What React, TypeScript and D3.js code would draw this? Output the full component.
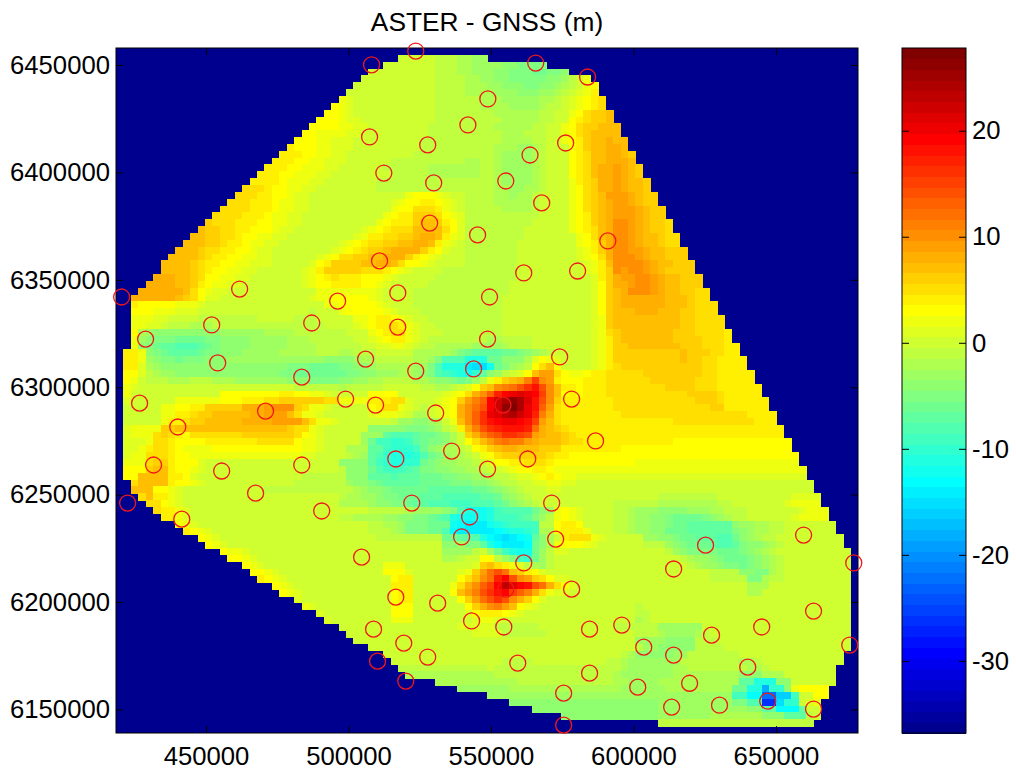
import React, { useEffect, useRef } from 'react';
import * as d3 from 'd3';

const xTicks = [450000, 500000, 550000, 600000, 650000];
const yTicks = [6150000, 6200000, 6250000, 6300000, 6350000, 6400000, 6450000];
const barTicks = [-30, -20, -10, 0, 10, 20];

// GNSS station positions
const eastings = [508100, 523600, 565700, 583900, 548900, 541900, 507400, 527800, 576200, 563700, 512400, 529900, 555200, 567800, 528500, 545300, 591000, 510900, 561500, 580400, 517300, 549500, 420400, 461800, 496200, 428800, 452000, 487100, 517300, 454100, 506000, 523600, 483600, 426700, 499000, 509500, 470900, 530600, 440100, 516600, 431600, 455500, 483600, 467400, 422500, 522200, 490600, 441500, 548800, 543900, 574100, 578300, 554200, 586700, 536200, 562900, 548800, 571300, 542500, 539700, 572700, 625300, 504600, 561500, 614100, 516600, 531300, 555200, 578300, 543200, 508800, 554500, 584600, 595900, 519400, 527800, 603600, 614100, 510200, 559400, 584600, 520100, 601500, 575500, 613400, 575500, 659700, 677300, 663200, 645000, 627400, 675900, 640100, 619700, 647100, 630200, 663200];
const northings = [6450100, 6456500, 6450900, 6444400, 6434200, 6422100, 6416500, 6412800, 6413700, 6408100, 6399700, 6395100, 6396000, 6385800, 6376400, 6370900, 6368100, 6358800, 6353200, 6354100, 6343900, 6342000, 6342000, 6345700, 6340100, 6322400, 6329000, 6329900, 6328000, 6311300, 6313100, 6307500, 6304700, 6292600, 6294500, 6291700, 6288900, 6288000, 6281500, 6266600, 6263800, 6261000, 6263800, 6250700, 6246100, 6246100, 6242400, 6238600, 6322400, 6308500, 6314100, 6294500, 6291700, 6275000, 6270300, 6266600, 6261900, 6246100, 6239600, 6230300, 6229300, 6226500, 6220900, 6218200, 6215400, 6202300, 6199500, 6206000, 6206000, 6191200, 6187400, 6188400, 6187400, 6189300, 6180900, 6174400, 6179000, 6175300, 6172500, 6171600, 6166900, 6163200, 6160400, 6157600, 6151100, 6142700, 6231200, 6218200, 6195800, 6188400, 6184600, 6180000, 6169700, 6162200, 6153900, 6152000, 6150200];

// first and one-past-last grid column with data, per grid row from the top
const rowStart = [100, 38, 36, 34, 33, 32, 31, 30, 29, 28, 27, 26, 25, 24, 23, 22, 21, 20, 19, 18, 17, 16, 15, 14, 13, 12, 11, 10, 9, 8, 7, 6, 6, 5, 4, 3, 2, 2, 2, 2, 2, 2, 2, 2, 1, 1, 1, 1, 1, 1, 1, 1, 1, 1, 1, 1, 1, 1, 1, 1, 1, 1, 1, 2, 2, 3, 4, 5, 6, 8, 9, 11, 12, 14, 15, 17, 18, 19, 21, 22, 24, 25, 27, 28, 30, 31, 32, 34, 36, 37, 38, 39, 43, 46, 50, 53, 56, 60, 73, 100];
const rowEnd = [100, 50, 58, 61, 64, 65, 65, 66, 66, 67, 67, 68, 68, 69, 69, 70, 70, 71, 71, 72, 72, 73, 73, 74, 74, 75, 75, 76, 76, 77, 77, 78, 78, 79, 79, 80, 80, 81, 81, 82, 82, 83, 83, 84, 84, 85, 85, 86, 86, 87, 87, 88, 88, 89, 89, 90, 90, 91, 91, 92, 92, 93, 93, 94, 94, 95, 95, 96, 96, 97, 97, 98, 98, 99, 99, 99, 99, 99, 99, 99, 99, 99, 99, 99, 99, 99, 99, 99, 98, 98, 97, 97, 97, 96, 96, 95, 95, 95, 94, 100];

// ASTER - GNSS difference in metres, one string per grid row.
// Ten columns per group, "_" is a group with no data.
// 0-9 = 0..9 m, a-r = 10..27 m, A-Z = -1..-26 m
const heatRows = [
  '',
  '_ _ _ 0000000000 000AAABBCC',
  '_ _ _ 0000000000 000AAABBCC CCDDEEEEEE',
  '_ _ _ 0000000000 000AAABBCC CDDEEEFFEE DCAAAAAAAA',
  '_ _ _ 0000000000 000AAAABBC CDDEEEEEDD CA02344444',
  '_ _ _ 1000000000 000AAAABBB CCDDDEEDDC BA02345555',
  '_ _ _ 1000000000 000AAAABBB BCCCDDDCCB A012455566',
  '_ _ _ 2100000000 000AAAAAAB BBCCCCCBBA 0123455666',
  '_ _ 3333333333 2100000000 000AAAAAAB BBBCCCCBAA 0123456666',
  '_ _ 3333333333 2100000000 000AAAAAAA ABBBBBBAA0 0235667766',
  '_ _ 3333333333 2110000000 000AAAAAAA AABBBBBAA0 0345667766',
  '_ _ 3333333333 2211000000 00AAAAAAAA ABBBBBAA00 2356677766',
  '_ _ 4443333222 2110000000 00AAAAAAAA AABBBAAA00 2356777766',
  '_ _ 4443333221 1100000000 0AAAAAAAAA AABBBBAA00 2346778776',
  '_ _ 4444333221 1100000000 0AAAAAAAAA ABBBCCBA00 0346778876',
  '_ _ 4444433221 1000000000 AAAAAAAAAA ABCCCCBA00 0345778876',
  '_ _ 4444332211 1000000AAA AAAAAAABBA ABCCCCBA00 0345778887',
  '_ _ 4443322211 000000AAAA AABBBBBBBA ABCCCCBA00 0345788987 6666666666',
  '_ 4444444444 4433222110 0000000AAA AABBBBBBBA ABCCCCBA00 0345788987 6666666666',
  '_ 4444444444 4432221100 00000AAAAA AAAAAAAAAA ABCCCCBA00 0245688987 7666666666',
  '_ 5555555555 4332211000 00000AAAAA AAAAAAAAAA ABBCCBBA00 0235688987 7666666666',
  '_ 5555555554 4332110000 0000000002 3332100AAA ABBCBBA000 0235679998 7666666666',
  '_ 5555555544 4322110000 0000000123 3443210AAA ABBBBBA000 0235678998 7666666666',
  '_ 6665555544 4322110000 0000000233 5554210AAA AABBBBA000 0235678999 8766666666',
  '_ 6665555444 3221100000 0000002344 6665321AAA AAAAAAA000 0234678999 8766666666',
  '_ 7665554443 3221100000 0000023444 6776431AAA AAAAAA0000 0234678aa9 8766555555',
  '_ 7766554433 3211000000 0001234555 7777531AAA AAAAA00000 0234578aa9 8766555555',
  '_ 7766554332 2110000000 0012445566 7887421AAA AAAAA00000 0023578aa9 8776555555',
  '7777777777 7766544322 1100000000 1234556677 8874210AAA AAAA000000 0023468aa9 8776555555',
  '7777777777 7655443321 1000000001 2345667888 8643100AAA AAAA000000 0012468aa9 9877666666',
  '7777777777 7654433221 1000000123 5566778886 4321000AAA AAAA000000 0012358aaa 9877666666',
  '7777777777 6544332211 1000001346 6667788753 3210000AAA AAAA000000 0001247aaa a987766666',
  '7777777777 6543322110 0000012466 6665554321 0000AAAAAA AAAA000000 0001246a9a a987666666',
  '7777788877 6533221100 0000012345 4443332100 000AAAAAAA AAAA000000 0000146899 aa98776666',
  '8888888877 6432211000 0000012334 4443321000 00AAAAAAAA AAA0000000 0000136889 aa98776666',
  '8888888887 5321100000 0000000222 2222210000 AAAAAAAAAA AAA0000000 000013678a aa98776655',
  '8888888876 5311000000 0000001223 3333210000 AAAAAAAAAA AA00000000 0000136788 8888777655',
  '6443333322 2100000000 0000000022 3333321000 AAAAAAAAAA AA00000000 0000136788 8888777655 5555555555',
  '6433322211 1000000000 000000A000 2333332100 0AAAAAAAAA AA00000000 0000136777 8887776655 5555555555',
  '5322211000 0AAAAAAAA0 0000AAA000 0022344321 00AAAAAAAA AA00000000 0000126777 7777776655 5555555555',
  '4322110AAA BBBAAAAAAA AAAAAAAA00 0012344542 100AAAAAAA AA00000000 0000126777 7777776655 5555555555',
  '433BCDDDDD DDDDCCCCCC BBBBAAAAAA A000234552 1000AAAAAA AA00000000 0000125677 7777766655 5545555555',
  '332CDEEEFF FFEEDDDDCC CCCBBBAAAA AA00123442 10AAAAAAAA BBAAAA0000 0000124677 7777766665 5545555555',
  '332DEFGGHH HGFEDDDDCC CCCBBBBAAA AAA0011221 0AABBBBBCC CCBAAA0000 0000124667 7777776665 5544555555',
  '4442DEFGGG GFEEDDDCCC CCBBBBBAAA BBAAA00000 BBBBBCEFGG GGFFEDCBA0 0000124666 6666667666 5544555555',
  '4442CDEEFE EEDDDCCCCC CCCCCCCCDD DDCBBAAAAA BBCEHHHKKK FFDDDB1321 0000124666 6666667665 5444444444',
  '4441BCDDDD DDDDDDDDDD DDDEEEFFFF EEDDCBBBBB CCEHKKKNOO LFECBA3573 0000124566 6666666665 5444444444',
  '3331ABCCDD DDDDDDDDDD DDEEFFFFFF FEEDDCCCBB CDEHIJKLJG DCA0137995 3223445555 5666666665 5444444444',
  '3320AAABBB AAABBBCCCC CCCDDDEEEE DDCCBBAAAA BBCDDEFECA 24678bfa94 3334445555 5566666655 5444444444',
  '2210000000 0000000000 0000AAAAAA BAAAAA0000 0AABBA0136 7abcegiea7 4434445555 5555666655 5444444444',
  '2200000000 0000333333 3344332210 0000333300 000012358a dhjklkjfa7 3434445555 5555555666 6544444444',
  '1100000022 2222333444 5566666655 2222444551 00012369bd jmoqoliea6 4444444555 5555555566 6544444444',
  '1000002233 4466666888 9aaa652210 0000345521 0A01238ace jmqrokid95 4444444555 5555555555 6644444444',
  '1000002244 5667777788 9997522100 0000122210 BB01238adg klnomkhb85 4444444455 5555555555 5555544444',
  '1000002445 6677777888 8999975221 0000000ACC DDCB027adg ijkkjif975 4444444444 4444455555 5555554444',
  '1122226677 7777777777 7776552100 0000DDDDDE EEDCA048be ghiiihc876 5444444444 4444444444 4444444444',
  '1122256543 5555555666 6666532100 000CCCGHHH GFFEDB068b deggfe9877 6544444444 4444444444 4444444444',
  '1111255433 3344444445 5555322100 000CFIIJJI GFEEDB0357 9bcbb98777 6554444444 4444433333 3333333333 3333333333',
  '1112455432 2223333333 3333322100 0BBBGGIJJJ IFDCBBA034 6788777666 4444444433 3333333333 3333333333 3333333333',
  '1122555433 2222222222 2222211000 0ABCGHJKKK JHFECBBA02 3566666654 4333333333 3333333333 3333333333 3333333333',
  '2222566433 3100000000 0000000000 DDDDGIJKKJ JFEDCCBBA0 1334455543 3333333333 2222222222 2222222222 2222222222',
  '3333677433 2100000000 0000000000 ADDDFHIIIH GEEDDCCBBA 0012334432 2222222222 2222222222 2222222222 2222222222',
  '3337777443 1000000000 00000AAAAA ADDDGGGHGG GFFFEEDDCC BAA0112343 2211111111 1111111111 1111111111 1111111111',
  '4457777433 2100000000 0000AAAAAA ACDDEFGGGG GFFFFEEEDD CBAA001122 1100000000 0000000000 0000000000 0000000000',
  '5577733210 0000000000 AAAAAAAAAA AABCDDEFFF FFGGGGGGFF EDCBA00011 0000000000 0000000000 0000000000 0000000000',
  '5555744210 0000000000 0000000000 ABBCCDEEFF FGGGHHHHHG GFDCBA0000 0000000000 000AAAAAAA A000000000 0111111111',
  '5555553210 0000000000 0000000000 BBBBCDDEEF GGHHHIIIHH HGFDCBA000 0000000AAA AAABBBBBBB BAA0000000 1222222222',
  '5555554421 0000000000 0000000000 0000AAAAAB CCCCDEHKLL KIHHHHFDC2 3210000AAB CCCDDDDCCC BBAAA00000 0012222222',
  '4444444421 0000000000 0000000000 AABBBBCCDD EEFGHKLLLL KIIIHGECA2 3210000AAB CCDDEFFFFE DCBAA00000 0122222222',
  '3333333332 1000000000 0000000000 0000AABBCE EEFFFLMNNN LKJIIIIAA3 4430000AAB CCDDEFFGGG GGGDCCBBAA 0000000000',
  '3333333334 3210000000 0000000000 0000AAABCE EEFFHMNNNN NMLKKJIBB3 4442000AAB CCDDFFFGGG GGGEDCBBAA 0000000000',
  '3333333333 3321000000 0000000000 00000AAAAA AAAAFFGGHK MNONMLGDB0 4555210000 0CCDDEFFGG GHHFDCBAA0 0000000000',
  '3333333333 3332100000 0000000000 0000000000 0000DDCEEG KMNNNMFDB2 3332100000 0AAACDEFFF GHHGEDDCBA 0000000000',
  '_ 3333322100 0000000000 0000000000 0000CCCCA0 CFIKLLFCA1 1000000000 0000ACDEEE EFFFEDCBA0 0000000000',
  '_ 3333333210 0000000000 0000000000 0000BBA003 3ACEIJFCA0 0000000000 000000ABCC DEFFFEDCBA 0000000000',
  '_ 3333333321 0000000000 0000002220 0000000016 75421ABCA0 0000000000 0000000ABC CDEEFEDCBA 0000000000',
  '_ 3333333333 2100000000 0000003331 0000001269 cec7643100 0000000000 0000000000 AAAADDEEBA 0000000000',
  '_ 4444444444 3210000000 0000000344 000000357a chjea96531 1000000000 0000000000 AAAAAEEBAA 0000000000',
  '_ _ 3321000000 0000000444 00000258ad fjnljiec85 3100000000 0000000000 00000BBB00 0000000000',
  '_ _ 3332100000 0000000344 00000379be gijfdb8521 1000000000 0000000000 00000BB000 0000000000',
  '_ _ 2222100000 0000000344 000000369c egea863100 0000000000 0000000000 0000000000 0000000000',
  '_ _ 2222221000 0000000333 0000000368 ab97321000 0000000000 A000000000 0000000000 0000000000',
  '_ _ 2222222100 0000000333 0000000134 4432100000 0000000000 AA00000000 0000000000 0000000000',
  '_ _ 2222222210 0000000222 0000000012 2100000000 0000000000 BA00000000 0000000000 0000000000',
  '_ _ _ 0000000000 0000001111 1AAAAAA000 0000000AAA AAACCCCCC0 0000000000 0000000000',
  '_ _ _ 0000000000 0000000011 11AAAAAA00 0000000000 AAABCCCCBA 0000000000 0000000000',
  '_ _ _ 0000000000 0000000000 0000000000 0000000000 CCCCDDDDAA A000000000 0000000000',
  '_ _ _ 0000000000 0000000000 0000000000 0000000000 ACCDDDDDAA AA00000000 0000000000',
  '_ _ _ 0000000000 0000000000 0000000000 00000000AB DDDDDCCAAA AAAA000000 0000000000',
  '_ _ _ 0000000000 0000000000 00AAAA0000 000000AABC CCCCCCAAAA AAAABBA000 0000000000',
  '_ _ _ AAAAAAAAAA AAAAAAAAAA 0AAAAAAAAA AAAAAAAABC CCCCCBBAAA AAAAABBA00 0000000000',
  '_ _ _ BBBBBBBBBB BBBBBBBBBB BAAAAAAAAA AAAAAAABCC CCCCCBBBBB BBBBDDDBBB 0000000000',
  '_ _ _ _ BBBBBBBBBB BBBBAAAAAA AAAAAAABBC CCCBBBBBBB BBBBGGKKKD D000000000',
  '_ _ _ _ CCCCCCCCCC CCCBBBBBBB BBBBBBBBCC CCCCBBBBBB BBBFFKKRJJ D233333333',
  '_ _ _ _ _ CCCCCCCCCC CCCCCCCCCC CCCCCCCCCC CCCIIMMVVP PI00333333',
  '_ _ _ _ _ DDDDDDDDDD DDDDDDDDDD DDDCCCCCCC CCCEEHHZZO JJ01222222',
  '_ _ _ _ _ DDDDDDDDDD DDDDDDDDDD DDDCCCCCCC CCCCCDDGGM MMG0000000',
  '_ _ _ _ _ _ DDDDDDDDDD DDDCCCCCCC BBBBBBBDDD GGGA000000',
  '_ _ _ _ _ _ _ AAAAAAAAAA AAAAAAAAAA AAAA000000',
  '',
];

const decode = (ch: string) => {
  if (ch >= '0' && ch <= '9') return +ch;
  if (ch >= 'a' && ch <= 'r') return ch.charCodeAt(0) - 87;
  if (ch >= 'A' && ch <= 'Z') return 64 - ch.charCodeAt(0);
  return NaN;
};

// matlab jet with 64 levels
const jet = d3.range(64).map((i) => {
  const v = (i + 1) / 64;
  const ch = (o: number) => Math.max(0, Math.min(1, 1.5 - Math.abs(4 * v - o)));
  return d3.rgb(ch(3) * 255, ch(2) * 255, ch(1) * 255).formatHex();
});

const W = 1016;
const H = 769;
const plot = { left: 116, right: 858, top: 48, bottom: 733 };
const bar = { left: 902, right: 966 };
const clim: [number, number] = [-36.8, 27.8];

const x = d3.scaleLinear().domain([418420, 678790]).range([plot.left, plot.right]);
const y = d3.scaleLinear().domain([6139050, 6457910]).range([plot.bottom, plot.top]);
const col = d3.scaleBand<number>().domain(d3.range(100)).range([plot.left, plot.right]);
const row = d3.scaleBand<number>().domain(d3.range(100)).range([plot.top, plot.bottom]);
const color = d3.scaleQuantize<string>().domain(clim).range(jet);
const barY = d3.scaleLinear().domain(clim).range([plot.bottom, plot.top]);
const barBand = d3.scaleBand<number>().domain(d3.range(64).reverse()).range([plot.top, plot.bottom]);

const cells: { r: number; c: number; v: number }[] = [];
heatRows.forEach((line, r) => {
  const groups = line.split(' ');
  let last = 0;
  for (let c = rowStart[r]; c < rowEnd[r]; c++) {
    const g = groups[Math.floor(c / 10)];
    const v = g && g !== '_' ? decode(g[c % 10] ?? '') : NaN;
    if (!Number.isNaN(v)) last = v;
    cells.push({ r, c, v: Number.isNaN(v) ? last : v });
  }
});

export default function App() {
  const axes = useRef<SVGGElement>(null);

  useEffect(() => {
    const g = d3.select(axes.current);
    g.selectAll('*').remove();
    const add = (axis: d3.Axis<any>, tx: number, ty: number, labels: boolean) => {
      const a = g.append('g').attr('transform', `translate(${tx},${ty})`).call(axis);
      a.selectAll('.domain').remove();
      a.selectAll('.tick line').attr('stroke', '#000').attr('stroke-width', 1);
      a.selectAll('text')
        .attr('fill', '#000')
        .style('font-family', '"Liberation Sans", Arial, sans-serif')
        .style('font-size', '25.7px')
        .style('display', labels ? null : 'none');
      return a;
    };
    const fmt = (d: any) => String(d);
    const xs = (s: any) => s.tickValues(xTicks).tickSizeOuter(0).tickFormat(fmt);
    const ys = (s: any) => s.tickValues(yTicks).tickSizeOuter(0).tickFormat(fmt);
    const bs = (s: any) => s.tickValues(barTicks).tickSizeOuter(0).tickFormat(fmt);
    add(xs(d3.axisBottom(x)).tickSizeInner(-7).tickPadding(14), 0, plot.bottom, true);
    add(xs(d3.axisTop(x)).tickSizeInner(-7), 0, plot.top, false);
    add(ys(d3.axisLeft(y)).tickSizeInner(-7).tickPadding(6), plot.left, 0, true);
    add(ys(d3.axisRight(y)).tickSizeInner(-7), plot.right, 0, false);
    add(bs(d3.axisLeft(barY)).tickSizeInner(-7), bar.left, 0, false);
    add(bs(d3.axisRight(barY)).tickSizeInner(-7).tickPadding(6), bar.right, 0, true);
  }, []);

  return (
    <svg width={W} height={H} style={{ position: 'absolute', left: 0, top: 0, background: '#fff' }}>
      <rect x={plot.left} y={plot.top} width={plot.right - plot.left} height={plot.bottom - plot.top} fill={jet[0]} />
      <g shapeRendering="crispEdges">
        {cells.map((d) => (
          <rect
            key={d.r * 100 + d.c}
            x={col(d.c)}
            y={row(d.r)}
            width={col.bandwidth() + 0.5}
            height={row.bandwidth() + 0.5}
            fill={color(d.v)}
          />
        ))}
      </g>
      <g shapeRendering="crispEdges">
        {d3.range(64).map((i) => (
          <rect
            key={i}
            x={bar.left}
            y={barBand(i)}
            width={bar.right - bar.left}
            height={barBand.bandwidth() + 0.5}
            fill={jet[i]}
          />
        ))}
      </g>
      <rect x={plot.left} y={plot.top} width={plot.right - plot.left} height={plot.bottom - plot.top} fill="none" stroke="#000" />
      <rect x={bar.left} y={plot.top} width={bar.right - bar.left} height={plot.bottom - plot.top} fill="none" stroke="#000" />
      <g ref={axes} />
      <g fill="none" stroke="#f01818" strokeWidth={1.3}>
        {eastings.map((e, i) => (
          <circle key={i} cx={x(e)} cy={y(northings[i])} r={8} />
        ))}
      </g>
      <text
        x={487}
        y={31}
        textAnchor="middle"
        fontFamily='"Liberation Sans", Arial, sans-serif'
        fontSize={26.3}
      >
        ASTER - GNSS (m)
      </text>
    </svg>
  );
}
